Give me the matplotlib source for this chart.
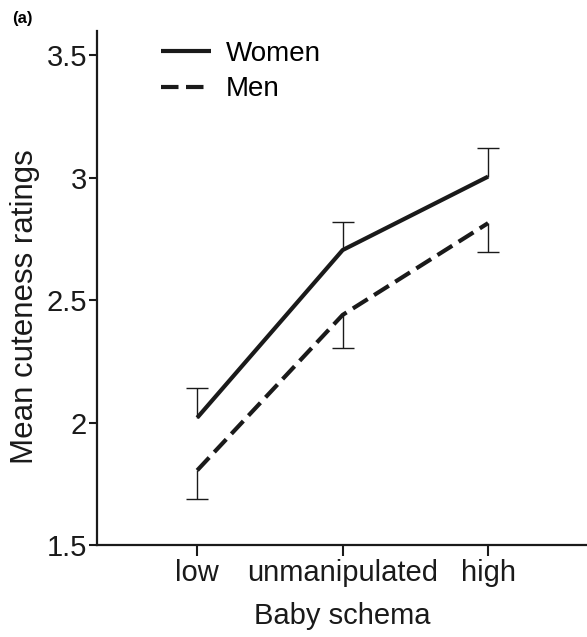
import matplotlib.pyplot as plt
import numpy as np

plt.rcParams['font.family'] = ['Liberation Sans', 'DejaVu Sans']

categories = ["low", "unmanipulated", "high"]
women = [2.02, 2.705, 3.005]
women_err = [0.12, 0.115, 0.115]
men = [1.805, 2.44, 2.815]
men_err = [0.115, 0.135, 0.12]

x = np.arange(1, len(categories) + 1)
women = np.array(women)
men = np.array(men)
w_top = women + np.array(women_err)
m_bot = men - np.array(men_err)

fig = plt.figure(figsize=(5.87, 6.37), dpi=100)
ax = fig.add_axes([0.165, 0.1444, 0.835, 0.807])

ink = '#1a1a1a'

# one-sided error bars: up for women, down for men
ax.vlines(x, women, w_top, color=ink, lw=1.0, zorder=1)
ax.vlines(x, m_bot, men, color=ink, lw=1.0, zorder=1)
ax.plot(x, w_top, ls='none', marker='_', markersize=16, mew=1.0, color=ink, zorder=1)
ax.plot(x, m_bot, ls='none', marker='_', markersize=16, mew=1.0, color=ink, zorder=1)

ax.plot(x, women, color=ink, lw=3.0, solid_capstyle='butt', label='Women', zorder=2)
ax.plot(x, men, color=ink, lw=3.0, ls=(0, (4.2, 1.8)), label='Men', zorder=2)

ax.set_xlim(0.31, 3.68)
ax.set_ylim(1.5, 3.6)
ax.set_xticks(x)
ax.set_xticklabels(categories)
ax.set_yticks([1.5, 2, 2.5, 3, 3.5])
ax.set_yticklabels(["1.5", "2", "2.5", "3", "3.5"])

for s in ['top', 'right']:
    ax.spines[s].set_visible(False)
for s in ['left', 'bottom']:
    ax.spines[s].set_linewidth(1.6)
    ax.spines[s].set_color(ink)

ax.tick_params(axis='y', length=6, width=1.5, labelsize=21, pad=1, colors=ink)
ax.tick_params(axis='x', length=8, width=1.5, labelsize=21, pad=2, colors=ink)

ax.set_xlabel("Baby schema", fontsize=21, labelpad=11, color=ink)
ax.set_ylabel("Mean cuteness ratings", fontsize=22.5, color=ink)
ax.yaxis.set_label_coords(-0.117, 0.463)

leg = ax.legend(loc='upper left', bbox_to_anchor=(0.08, 1.03), frameon=False,
                fontsize=20, handlelength=1.78, handletextpad=0.54, labelspacing=0.35)

fig.text(0.02, 0.982, "(a)", fontsize=12, fontweight='bold', va='top')

fig.savefig("out.png", dpi=100)
